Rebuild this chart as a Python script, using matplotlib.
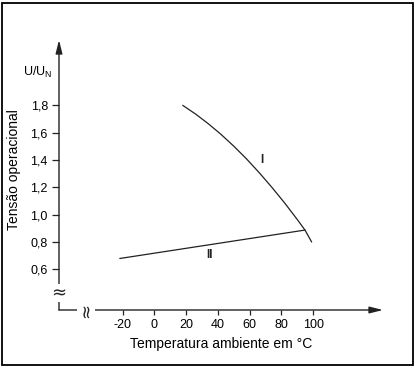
import matplotlib
matplotlib.use("Agg")
import matplotlib.pyplot as plt
from matplotlib.patches import Rectangle

plt.rcParams['font.family'] = ['Liberation Sans', 'DejaVu Sans']

# Data
curve1_t = [18, 26, 34, 42, 50, 58, 66, 74, 82, 90, 95, 99]
curve1_u = [1.800, 1.737, 1.666, 1.588, 1.502, 1.409, 1.308, 1.200, 1.086, 0.964, 0.884, 0.800]
curve2_t = [-21.6, 94.8]
curve2_u = [0.678, 0.886]
xticks = [-20, 0, 20, 40, 60, 80, 100]
yticks = [0.6, 0.8, 1.0, 1.2, 1.4, 1.6, 1.8]
ytick_labels = ["0,6", "0,8", "1,0", "1,2", "1,4", "1,6", "1,8"]
xlabel = "Temperatura ambiente em °C"
ylabel = "Tensão operacional"

W, H = 417, 369
fig = plt.figure(figsize=(W / 100, H / 100), dpi=100)
# axes box in pixels: left 59, right 383, top 40, bottom 310
ax = fig.add_axes([59 / W, (H - 310) / H, (383 - 59) / W, (310 - 40) / H])
ax.set_xlim(-60, 144)
ax.set_ylim(0.30, 2.28)

for s in ax.spines.values():
    s.set_visible(False)

# axes with arrows
ax.annotate('', xy=(1, 0), xytext=(0, 0), xycoords='axes fraction',
            arrowprops=dict(arrowstyle='-|>,head_length=0.8,head_width=0.2',
                            color='#222222', lw=1.0, shrinkA=0, shrinkB=0))
ax.annotate('', xy=(0, 1), xytext=(0, 0), xycoords='axes fraction',
            arrowprops=dict(arrowstyle='-|>,head_length=0.8,head_width=0.2',
                            color='#222222', lw=1.0, shrinkA=0, shrinkB=0))

ax.plot(curve1_t, curve1_u, color='#222222', lw=0.9, solid_joinstyle='round')
ax.plot(curve2_t, curve2_u, color='#222222', lw=0.9)

ax.text(68, 1.40, "I", fontsize=8.5, fontweight='bold', ha='center', va='center', color='#222222')
ax.text(34.5, 0.70, "II", fontsize=8.5, fontweight='bold', ha='center', va='center', color='#222222')

ax.set_xticks(xticks)
ax.set_xticklabels([str(v) for v in xticks])
ax.set_yticks(yticks)
ax.set_yticklabels(ytick_labels)
ax.tick_params(axis='y', direction='out', length=5, width=0.9, pad=3, labelsize=9, color='#222222')
ax.tick_params(axis='x', direction='out', length=3.5, width=0.9, pad=3, labelsize=9, color='#222222')

ax.set_xlabel(xlabel, fontsize=10, labelpad=4)
ax.set_ylabel(ylabel, fontsize=10)
ax.yaxis.set_label_coords(-0.117, 0.52)

# U/U_N
ax.annotate(r"U/U$_\mathregular{N}$", xy=(0, 2.04), xycoords=('axes fraction', 'data'),
            xytext=(-5, 0), textcoords='offset points', ha='right', va='center', fontsize=9)

# axis break marks
ax.text(-60, 0.424, "≈", fontsize=13, family='DejaVu Sans', ha='center', va='center', color='#222222',
        bbox=dict(boxstyle='square,pad=0.0', fc='white', ec='none'), clip_on=False)
ax.text(-43, 0.30, "≈", fontsize=13, family='DejaVu Sans', ha='center', va='center', rotation=90,
        color='#222222', bbox=dict(boxstyle='square,pad=0.0', fc='white', ec='none'), clip_on=False)

# frame
fig.add_artist(Rectangle((1.5 / W, 4 / H), (413 - 1.5) / W, (365 - 2.5) / H,
                         transform=fig.transFigure, fill=False, lw=1.3, ec='black'))

fig.savefig("out.png", dpi=100)
